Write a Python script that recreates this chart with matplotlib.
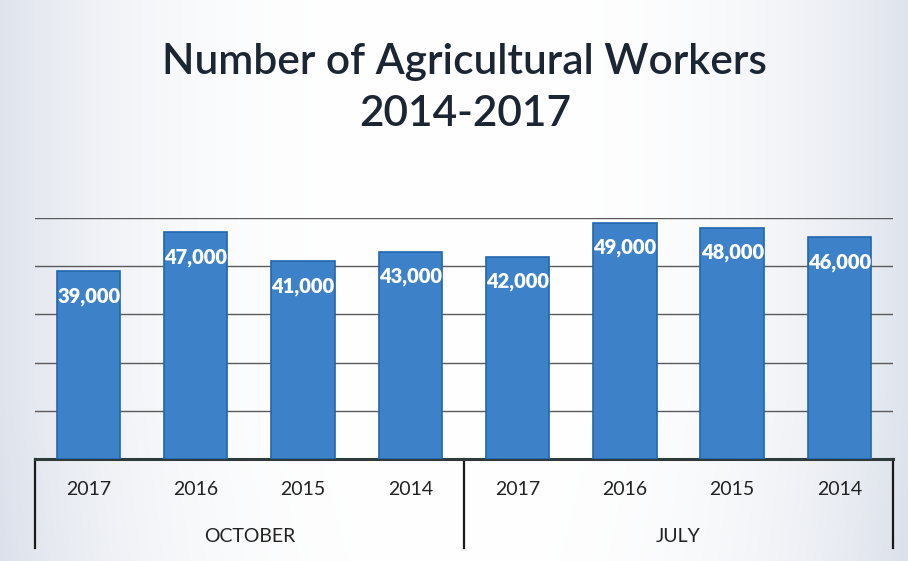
import numpy as np
import matplotlib
matplotlib.use("Agg")
import matplotlib.pyplot as plt
from matplotlib.transforms import blended_transform_factory

months = ["OCTOBER", "JULY"]
years = ["2017", "2016", "2015", "2014"]
october_workers = [39000, 47000, 41000, 43000]
july_workers = [42000, 49000, 48000, 46000]

plt.rcParams["font.family"] = ["Lato", "DejaVu Sans"]

workers = october_workers + july_workers
labels = years + years
x = np.arange(len(workers))

fig = plt.figure(figsize=(9.08, 5.61), dpi=100)
fig.patch.set_facecolor("white")

# soft grey shading toward the page edges
bg = fig.add_axes([0, 0, 1, 1], zorder=-10)
gx = np.linspace(-1, 1, 400)
gy = np.linspace(-1, 1, 250)
X, Y = np.meshgrid(gx, gy)
shade = np.clip(np.abs(X) ** 3 * 0.9 + (Y > 0.4) * 0.15 * (Y - 0.4) * np.abs(X), 0, 1)
rgb = np.ones((250, 400, 3))
edge = np.array([0.86, 0.88, 0.92])
rgb = rgb * (1 - shade[..., None]) + edge * shade[..., None]
bg.imshow(rgb, aspect="auto", extent=[0, 1, 0, 1])
bg.axis("off")

ax = fig.add_axes([0.0385, 0.1818, 0.945, 0.4296])
ax.set_facecolor("none")

bars = ax.bar(x, workers, width=0.59, color="#3d82c9", edgecolor="#2266b0",
              linewidth=1.2, zorder=3)
for b, v in zip(bars, workers):
    ax.annotate(f"{v:,}", (b.get_x() + b.get_width() / 2, v), xytext=(0, -18),
                textcoords="offset points", ha="center", va="center",
                color="white", fontsize=14.5, fontweight="heavy", zorder=4)

ax.set_xlim(-0.5, len(workers) - 0.5)
ax.set_ylim(0, 50000)
ax.set_yticks(np.arange(10000, 50001, 10000))
ax.yaxis.grid(True, color="#5a5a5a", linewidth=1.0, zorder=0)
ax.tick_params(axis="y", left=False, labelleft=False)
for s in ["top", "right", "left"]:
    ax.spines[s].set_visible(False)
ax.spines["bottom"].set_color("#2e3b3a")
ax.spines["bottom"].set_linewidth(2.2)

ax.set_xticks(x)
ax.set_xticklabels(labels, fontsize=14, color="#222222")
ax.tick_params(axis="x", length=0, pad=16)

# category box below the axis
trans = blended_transform_factory(ax.transData, ax.transAxes)
for xv in [-0.5, 3.5, 7.5]:
    ax.plot([xv, xv], [0, -0.37], transform=trans, color="#1a1a1a",
            linewidth=1.6, clip_on=False)
for i, m in enumerate(months):
    ax.text(1.5 + 4 * i, -0.32, m, transform=trans, ha="center", va="center",
            fontsize=14, color="#222222")

fig.text(0.512, 0.890, "Number of Agricultural Workers", ha="center",
         va="center", fontsize=30.5, fontweight="semibold", color="#1c2633")
fig.text(0.512, 0.797, "2014-2017", ha="center", va="center", fontsize=30.5,
         fontweight="semibold", color="#1c2633")

fig.savefig("out.png", dpi=100)
